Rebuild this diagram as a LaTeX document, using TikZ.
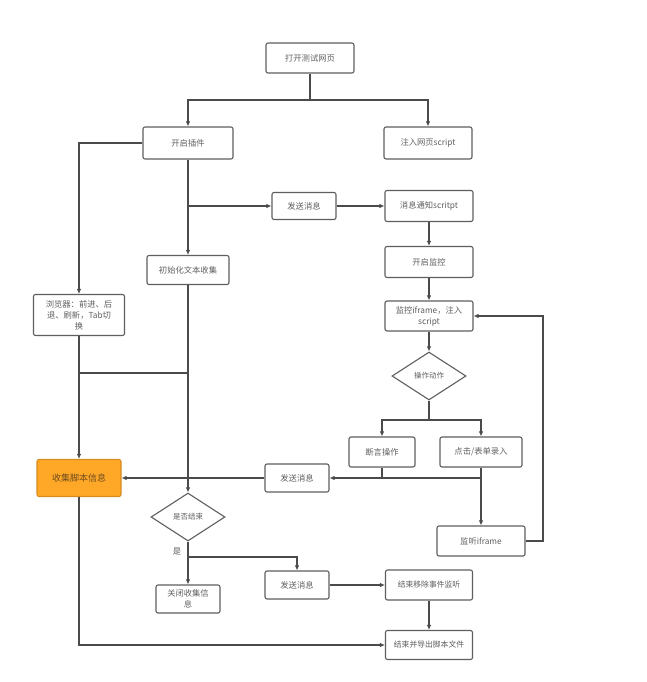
\documentclass[tikz,border=0pt]{standalone}
\usepackage{fontspec}
\setmainfont{Noto Sans CJK SC}
\usetikzlibrary{arrows.meta,positioning,shapes.geometric}
\definecolor{linegray}{RGB}{75,75,75}
\definecolor{boxgray}{RGB}{95,95,95}
\definecolor{textgray}{RGB}{95,95,95}
\definecolor{softorange}{RGB}{255,168,40}
\definecolor{darkorange}{RGB}{214,140,30}
\definecolor{browntext}{RGB}{110,75,30}

\begin{document}
\begin{tikzpicture}[x=1pt,y=-1pt,
  every node/.style={font=\fontsize{8.3}{11}\selectfont,text=textgray},
  box/.style={draw=boxgray,line width=1.1pt,rounded corners=2pt,fill=white,align=center,inner sep=1pt},
  decision/.style={diamond,draw=boxgray,line width=1.1pt,fill=white,inner sep=0pt,minimum width=74pt,minimum height=48pt},
  flow/.style={draw=linegray,line width=1.1pt,-{Latex[length=5pt,width=4.5pt]}}]
  \useasboundingbox[fill=white] (0,0) rectangle (646,682);
  \node[box,minimum width=88pt,minimum height=30pt] (open) at (310,58) {打开测试网页};
  \node[box,minimum width=90pt,minimum height=32pt] (plugin) at (188,143) {开启插件};
  \node[box,minimum width=88pt,minimum height=32pt] (inject) at (428,143) {注入网页script};
  \node[box,minimum width=64pt,minimum height=27pt] (send1) at (304,206) {发送消息};
  \node[box,minimum width=88pt,minimum height=31pt] (notify) at (429,206) {消息通知scritpt};
  \node[box,minimum width=88pt,minimum height=31pt] (startmon) at (429,262) {开启监控};
  \node[box,minimum width=88pt,minimum height=30pt,text width=82pt] (moniframe) at (429,316) {监控iframe，注入\\script};
  \node[decision,font=\fontsize{7.5}{10}\selectfont] (action) at (429,376) {操作动作};
  \node[box,minimum width=66pt,minimum height=30pt] (assert) at (382,452) {断言操作};
  \node[box,minimum width=82pt,minimum height=30pt] (click) at (481,452) {点击/表单录入};
  \node[box,minimum width=64pt,minimum height=28pt] (send2) at (297,478) {发送消息};
  \node[box,minimum width=88pt,minimum height=30pt] (listen) at (481,541) {监听iframe};
  \node[box,fill=softorange,draw=darkorange,text=browntext,minimum width=84pt,minimum height=37pt,font=\fontsize{9}{11}\selectfont] (collect) at (79,478) {收集脚本信息};
  \node[box,minimum width=91pt,minimum height=41pt,text width=86pt] (browser) at (79,315) {浏览器：前进、后\\退、刷新，Tab切\\换};
  \node[box,minimum width=82pt,minimum height=29pt] (init) at (188,270) {初始化文本收集};
  \node[decision,font=\fontsize{7.5}{10}\selectfont] (isend) at (188,517) {是否结束};
  \node[box,minimum width=64pt,minimum height=28pt,text width=60pt] (close) at (188,599) {关闭收集信\\息};
  \node[box,minimum width=64pt,minimum height=28pt] (send3) at (297,585) {发送消息};
  \node[box,minimum width=87pt,minimum height=30pt,font=\fontsize{7.8}{10}\selectfont] (endlisten) at (429,585) {结束移除事件监听};
  \node[box,minimum width=87pt,minimum height=29pt,font=\fontsize{7.8}{10}\selectfont] (export) at (429,645) {结束并导出脚本文件};
  \node (yes) at (177,552) {是};

  \coordinate (topsplit) at (310,100);
  \coordinate (actsplit) at (429,420);
  \coordinate (initjoin) at (188,373);
  \coordinate (browserjoin) at (79,373);
  \coordinate (endsplit) at (188,557);
  \coordinate (loopback) at (543,541);

  \draw[flow] (open.south) -- (topsplit) -| (plugin.north);
  \draw[flow] (topsplit) -| (inject.north);
  \draw[flow] (plugin.west) -| (browser.north);
  \draw[flow] (plugin.south) -- (init.north);
  \draw[flow] (plugin.south |- send1.west) -- (send1.west);
  \draw[flow] (send1) -- (notify);
  \draw[flow] (notify) -- (startmon);
  \draw[flow] (startmon) -- (moniframe);
  \draw[flow] (moniframe) -- (action);
  \draw[flow] (action.south) -- (actsplit) -| (assert.north);
  \draw[flow] (actsplit) -| (click.north);
  \draw[linegray,line width=1.1pt] (assert.south) -- (assert.south |- send2.east);
  \draw[flow] (click.south) |- (send2.east);
  \draw[flow] (click.south) -- (listen.north);
  \draw[flow] (listen.east) -- (loopback) |- (moniframe.east);
  \draw[flow] (send2) -- (collect);
  \draw[flow] (browser) -- (collect);
  \draw[linegray,line width=1.1pt] (initjoin) -- (browserjoin);
  \draw[flow] (init) -- (isend);
  \draw[flow] (isend) -- (close);
  \draw[flow] (endsplit) -| (send3.north);
  \draw[flow] (send3) -- (endlisten);
  \draw[flow] (endlisten) -- (export);
  \draw[flow] (collect.south) |- (export.west);
\end{tikzpicture}
\end{document}
